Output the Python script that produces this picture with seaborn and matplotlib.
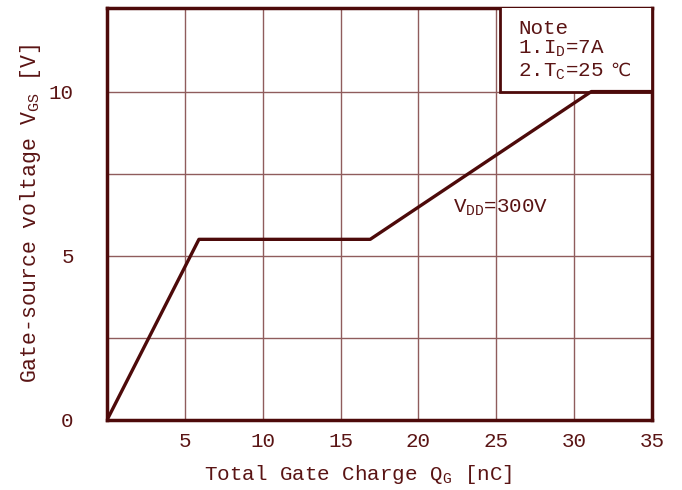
import numpy as np
import pandas as pd
import seaborn as sns
import matplotlib.pyplot as plt
from matplotlib.patches import Rectangle

# gate charge curve
qg_nc = [0.0, 5.9, 16.9, 31.1, 35.0]
vgs_v = [0.0, 5.5, 5.5, 10.0, 10.0]
x_ticks = [5, 10, 15, 20, 25, 30, 35]
y_ticks = [0, 5, 10]
y_grid = [2.5, 7.5]

dark = '#4d0a0a'
grid_c = '#8f5c5c'
text_c = '#5a1414'

sns.set_style('white')
plt.rcParams['font.family'] = ['Liberation Mono', 'DejaVu Sans']
plt.rcParams['mathtext.fontset'] = 'custom'
plt.rcParams['mathtext.rm'] = 'Liberation Mono'

df = pd.DataFrame({'Qg': qg_nc, 'Vgs': vgs_v})

fig, ax = plt.subplots(figsize=(6.82, 4.9), dpi=100)
fig.subplots_adjust(left=0.157, right=0.956, top=0.984, bottom=0.143)

sns.lineplot(x='Qg', y='Vgs', data=df, ax=ax, color=dark, lw=2.4, zorder=4)

ax.set_xlim(0, 35)
ax.set_ylim(0, 12.55)
ax.set_xticks(x_ticks)
ax.set_yticks(y_ticks)
ax.set_yticks(y_grid, minor=True)
ax.grid(True, which='both', color=grid_c, lw=1.0, zorder=0)
ax.tick_params(which='both', length=0, labelsize=15, colors=text_c)
ax.tick_params(axis='x', pad=9)
ax.tick_params(axis='y', pad=24)
for s in ax.spines.values():
    s.set_color(dark)
    s.set_linewidth(2.5)

ax.set_xlabel(r'Total Gate Charge Q$_{\mathregular{G}}$ [nC]', fontsize=15,
              color=text_c)
ax.xaxis.set_label_coords(0.46, -0.105)
ax.set_ylabel(r'Gate-source voltage V$_{\mathregular{GS}}$ [V]', fontsize=15.5,
              color=text_c, labelpad=4)

# note box in the upper right corner
ax.add_patch(Rectangle((25.25, 10.0), 9.75, 2.6, facecolor='white',
                       edgecolor=dark, lw=2.0, zorder=3))
ax.text(26.4, 11.92, 'Note', fontsize=15, color=text_c, va='center', zorder=5)
ax.text(26.4, 11.3, r'1.I$_{\mathregular{D}}$=7A', fontsize=15,
        color=text_c, va='center', zorder=5)
ax.text(26.4, 10.6, r'2.T$_{\mathregular{C}}$=25', fontsize=15,
        color=text_c, va='center', zorder=5)
ax.text(32.3, 10.62, '℃', fontsize=13, family='DejaVu Sans',
        color=text_c, va='center', zorder=5)

ax.text(22.2, 6.45, r'V$_{\mathregular{DD}}$=300V', fontsize=15,
        color=text_c, va='center', zorder=5)

fig.savefig('out.png', dpi=100)
